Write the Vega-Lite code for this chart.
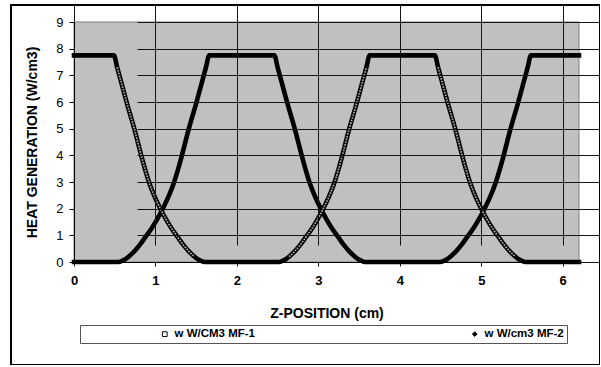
{
  "$schema": "https://vega.github.io/schema/vega-lite/v6.json",
  "width": 589,
  "height": 360,
  "autosize": "none",
  "padding": {"left": 11, "top": 5, "right": 0, "bottom": 0},
  "background": "white",
  "config": {
    "font": "Liberation Sans",
    "view": {"stroke": "black", "strokeWidth": 2},
    "axis": {
      "zindex": 1,
      "grid": true,
      "gridColor": "#141414",
      "gridWidth": 1,
      "domainColor": "black",
      "domainWidth": 1,
      "tickColor": "black",
      "labelColor": "black",
      "titleColor": "black",
      "labelFont": "Liberation Sans",
      "titleFont": "Liberation Sans",
      "labelFontSize": 13,
      "titleFontSize": 14,
      "titleFontWeight": "bold",
      "labelFlush": false,
      "labelOverlap": false
    },
    "axisX": {"offset": -103, "tickSize": 4, "labelPadding": 8, "labelFontWeight": "bold", "titlePadding": 19},
    "axisY": {"offset": -63, "tickSize": 5, "labelPadding": 6, "titlePadding": 16, "labelFontWeight": "normal"}
  },
  "datasets": {
    "plot": [{"area": "plot"}],
    "curves": [
      {"s": "w W/CM3 MF-1", "x": 0, "y": 7.75},
      {"s": "w W/CM3 MF-1", "x": 0.49, "y": 7.75},
      {"s": "w W/CM3 MF-1", "x": 0.53, "y": 7.3},
      {"s": "w W/CM3 MF-1", "x": 0.57, "y": 6.85},
      {"s": "w W/CM3 MF-1", "x": 0.65, "y": 5.95},
      {"s": "w W/CM3 MF-1", "x": 0.74, "y": 5.0},
      {"s": "w W/CM3 MF-1", "x": 0.825, "y": 4.0},
      {"s": "w W/CM3 MF-1", "x": 0.87, "y": 3.5},
      {"s": "w W/CM3 MF-1", "x": 0.92, "y": 3.0},
      {"s": "w W/CM3 MF-1", "x": 0.99, "y": 2.45},
      {"s": "w W/CM3 MF-1", "x": 1.06, "y": 2.0},
      {"s": "w W/CM3 MF-1", "x": 1.13, "y": 1.6},
      {"s": "w W/CM3 MF-1", "x": 1.2, "y": 1.25},
      {"s": "w W/CM3 MF-1", "x": 1.27, "y": 0.95},
      {"s": "w W/CM3 MF-1", "x": 1.34, "y": 0.65},
      {"s": "w W/CM3 MF-1", "x": 1.41, "y": 0.4},
      {"s": "w W/CM3 MF-1", "x": 1.48, "y": 0.2},
      {"s": "w W/CM3 MF-1", "x": 1.54, "y": 0.07},
      {"s": "w W/CM3 MF-1", "x": 1.6, "y": 0},
      {"s": "w W/CM3 MF-1", "x": 2.52, "y": 0},
      {"s": "w W/CM3 MF-1", "x": 2.58, "y": 0.07},
      {"s": "w W/CM3 MF-1", "x": 2.64, "y": 0.2},
      {"s": "w W/CM3 MF-1", "x": 2.71, "y": 0.4},
      {"s": "w W/CM3 MF-1", "x": 2.78, "y": 0.65},
      {"s": "w W/CM3 MF-1", "x": 2.85, "y": 0.95},
      {"s": "w W/CM3 MF-1", "x": 2.92, "y": 1.25},
      {"s": "w W/CM3 MF-1", "x": 2.99, "y": 1.6},
      {"s": "w W/CM3 MF-1", "x": 3.06, "y": 2.0},
      {"s": "w W/CM3 MF-1", "x": 3.13, "y": 2.45},
      {"s": "w W/CM3 MF-1", "x": 3.2, "y": 3.0},
      {"s": "w W/CM3 MF-1", "x": 3.25, "y": 3.5},
      {"s": "w W/CM3 MF-1", "x": 3.295, "y": 4.0},
      {"s": "w W/CM3 MF-1", "x": 3.38, "y": 5.0},
      {"s": "w W/CM3 MF-1", "x": 3.47, "y": 5.95},
      {"s": "w W/CM3 MF-1", "x": 3.55, "y": 6.85},
      {"s": "w W/CM3 MF-1", "x": 3.59, "y": 7.3},
      {"s": "w W/CM3 MF-1", "x": 3.63, "y": 7.75},
      {"s": "w W/CM3 MF-1", "x": 4.43, "y": 7.75},
      {"s": "w W/CM3 MF-1", "x": 4.47, "y": 7.3},
      {"s": "w W/CM3 MF-1", "x": 4.51, "y": 6.85},
      {"s": "w W/CM3 MF-1", "x": 4.59, "y": 5.95},
      {"s": "w W/CM3 MF-1", "x": 4.68, "y": 5.0},
      {"s": "w W/CM3 MF-1", "x": 4.765, "y": 4.0},
      {"s": "w W/CM3 MF-1", "x": 4.81, "y": 3.5},
      {"s": "w W/CM3 MF-1", "x": 4.86, "y": 3.0},
      {"s": "w W/CM3 MF-1", "x": 4.93, "y": 2.45},
      {"s": "w W/CM3 MF-1", "x": 5.0, "y": 2.0},
      {"s": "w W/CM3 MF-1", "x": 5.07, "y": 1.6},
      {"s": "w W/CM3 MF-1", "x": 5.14, "y": 1.25},
      {"s": "w W/CM3 MF-1", "x": 5.21, "y": 0.95},
      {"s": "w W/CM3 MF-1", "x": 5.28, "y": 0.65},
      {"s": "w W/CM3 MF-1", "x": 5.35, "y": 0.4},
      {"s": "w W/CM3 MF-1", "x": 5.42, "y": 0.2},
      {"s": "w W/CM3 MF-1", "x": 5.48, "y": 0.07},
      {"s": "w W/CM3 MF-1", "x": 5.54, "y": 0},
      {"s": "w W/CM3 MF-1", "x": 6.2, "y": 0},
      {"s": "w W/cm3 MF-2", "x": 0, "y": 0},
      {"s": "w W/cm3 MF-2", "x": 0.55, "y": 0},
      {"s": "w W/cm3 MF-2", "x": 0.61, "y": 0.07},
      {"s": "w W/cm3 MF-2", "x": 0.67, "y": 0.2},
      {"s": "w W/cm3 MF-2", "x": 0.74, "y": 0.4},
      {"s": "w W/cm3 MF-2", "x": 0.81, "y": 0.65},
      {"s": "w W/cm3 MF-2", "x": 0.88, "y": 0.95},
      {"s": "w W/cm3 MF-2", "x": 0.95, "y": 1.25},
      {"s": "w W/cm3 MF-2", "x": 1.02, "y": 1.6},
      {"s": "w W/cm3 MF-2", "x": 1.09, "y": 2.0},
      {"s": "w W/cm3 MF-2", "x": 1.16, "y": 2.45},
      {"s": "w W/cm3 MF-2", "x": 1.23, "y": 3.0},
      {"s": "w W/cm3 MF-2", "x": 1.28, "y": 3.5},
      {"s": "w W/cm3 MF-2", "x": 1.325, "y": 4.0},
      {"s": "w W/cm3 MF-2", "x": 1.41, "y": 5.0},
      {"s": "w W/cm3 MF-2", "x": 1.5, "y": 5.95},
      {"s": "w W/cm3 MF-2", "x": 1.58, "y": 6.85},
      {"s": "w W/cm3 MF-2", "x": 1.62, "y": 7.3},
      {"s": "w W/cm3 MF-2", "x": 1.66, "y": 7.75},
      {"s": "w W/cm3 MF-2", "x": 2.46, "y": 7.75},
      {"s": "w W/cm3 MF-2", "x": 2.5, "y": 7.3},
      {"s": "w W/cm3 MF-2", "x": 2.54, "y": 6.85},
      {"s": "w W/cm3 MF-2", "x": 2.62, "y": 5.95},
      {"s": "w W/cm3 MF-2", "x": 2.71, "y": 5.0},
      {"s": "w W/cm3 MF-2", "x": 2.795, "y": 4.0},
      {"s": "w W/cm3 MF-2", "x": 2.84, "y": 3.5},
      {"s": "w W/cm3 MF-2", "x": 2.89, "y": 3.0},
      {"s": "w W/cm3 MF-2", "x": 2.96, "y": 2.45},
      {"s": "w W/cm3 MF-2", "x": 3.03, "y": 2.0},
      {"s": "w W/cm3 MF-2", "x": 3.1, "y": 1.6},
      {"s": "w W/cm3 MF-2", "x": 3.17, "y": 1.25},
      {"s": "w W/cm3 MF-2", "x": 3.24, "y": 0.95},
      {"s": "w W/cm3 MF-2", "x": 3.31, "y": 0.65},
      {"s": "w W/cm3 MF-2", "x": 3.38, "y": 0.4},
      {"s": "w W/cm3 MF-2", "x": 3.45, "y": 0.2},
      {"s": "w W/cm3 MF-2", "x": 3.51, "y": 0.07},
      {"s": "w W/cm3 MF-2", "x": 3.57, "y": 0},
      {"s": "w W/cm3 MF-2", "x": 4.5, "y": 0},
      {"s": "w W/cm3 MF-2", "x": 4.56, "y": 0.07},
      {"s": "w W/cm3 MF-2", "x": 4.62, "y": 0.2},
      {"s": "w W/cm3 MF-2", "x": 4.69, "y": 0.4},
      {"s": "w W/cm3 MF-2", "x": 4.76, "y": 0.65},
      {"s": "w W/cm3 MF-2", "x": 4.83, "y": 0.95},
      {"s": "w W/cm3 MF-2", "x": 4.9, "y": 1.25},
      {"s": "w W/cm3 MF-2", "x": 4.97, "y": 1.6},
      {"s": "w W/cm3 MF-2", "x": 5.04, "y": 2.0},
      {"s": "w W/cm3 MF-2", "x": 5.11, "y": 2.45},
      {"s": "w W/cm3 MF-2", "x": 5.18, "y": 3.0},
      {"s": "w W/cm3 MF-2", "x": 5.23, "y": 3.5},
      {"s": "w W/cm3 MF-2", "x": 5.275, "y": 4.0},
      {"s": "w W/cm3 MF-2", "x": 5.36, "y": 5.0},
      {"s": "w W/cm3 MF-2", "x": 5.45, "y": 5.95},
      {"s": "w W/cm3 MF-2", "x": 5.53, "y": 6.85},
      {"s": "w W/cm3 MF-2", "x": 5.57, "y": 7.3},
      {"s": "w W/cm3 MF-2", "x": 5.61, "y": 7.75},
      {"s": "w W/cm3 MF-2", "x": 6.2, "y": 7.75}
    ]
  },
  "layer": [
    {
      "data": {"name": "plot"},
      "mark": {"type": "rect", "fill": "#c0c0c0", "stroke": "#808080", "strokeWidth": 1},
      "encoding": {
        "x": {
          "datum": 0, "type": "quantitative", "title": "Z-POSITION (cm)",
          "scale": {"domain": [0, 6.2], "range": [63, 568], "nice": false, "zero": false},
          "axis": {"values": [0, 1, 2, 3, 4, 5, 6], "zindex": 1, "grid": true, "format": "d"}
        },
        "x2": {"datum": 6.2},
        "y": {
          "datum": 0, "type": "quantitative", "title": "HEAT GENERATION  (W/cm3)",
          "scale": {"domain": [0, 9], "range": [257, 17], "nice": false, "zero": false},
          "axis": {"values": [0, 1, 2, 3, 4, 5, 6, 7, 8, 9], "zindex": 1, "grid": true, "format": "d"}
        },
        "y2": {"datum": 9}
      }
    },
    {
      "data": {"name": "curves"},
      "mark": {"type": "line", "strokeWidth": 4.6, "strokeCap": "square", "interpolate": "monotone"},
      "encoding": {
        "x": {
          "field": "x", "type": "quantitative", "title": "Z-POSITION (cm)",
          "axis": {"values": [0, 1, 2, 3, 4, 5, 6], "zindex": 1, "grid": true, "format": "d"}
        },
        "y": {
          "field": "y", "type": "quantitative", "title": "HEAT GENERATION  (W/cm3)",
          "axis": {"values": [0, 1, 2, 3, 4, 5, 6, 7, 8, 9], "zindex": 1, "grid": true, "format": "d"}
        },
        "color": {
          "field": "s", "type": "nominal",
          "scale": {"range": ["black", "black"]},
          "legend": {
            "orient": "none",
            "legendX": 69,
            "legendY": 320,
            "direction": "horizontal",
            "title": null,
            "strokeColor": "#555555",
            "padding": 3,
            "symbolOffset": 76,
            "columnPadding": 138,
            "labelFontSize": 11.5,
            "labelFontWeight": "bold",
            "labelColor": "black",
            "labelOffset": 4,
            "symbolType": "square",
            "symbolSize": 22,
            "symbolStrokeWidth": 1,
            "symbolStrokeColor": "black",
            "encode": {
              "symbols": {
                "update": {
                  "shape": {"signal": "datum.value == 'w W/CM3 MF-1' ? 'square' : 'diamond'"},
                  "fill": {"signal": "datum.value == 'w W/CM3 MF-1' ? 'white' : 'black'"},
                  "stroke": {"value": "black"},
                  "strokeWidth": {"value": 1}
                }
              }
            }
          }
        }
      }
    },
    {
      "data": {"name": "curves"},
      "transform": [{"filter": "datum.s == 'w W/CM3 MF-1' && datum.y > 0.1 && datum.y < 7.7"}],
      "mark": {"type": "line", "stroke": "#b0b0b0", "strokeWidth": 1.7, "strokeDash": [1.6, 1.2], "interpolate": "monotone"},
      "encoding": {
        "x": {
          "field": "x", "type": "quantitative", "title": "Z-POSITION (cm)",
          "axis": {"values": [0, 1, 2, 3, 4, 5, 6], "zindex": 1, "grid": true, "format": "d"}
        },
        "y": {
          "field": "y", "type": "quantitative", "title": "HEAT GENERATION  (W/cm3)",
          "axis": {"values": [0, 1, 2, 3, 4, 5, 6, 7, 8, 9], "zindex": 1, "grid": true, "format": "d"}
        },
        "detail": {"field": "x", "type": "quantitative", "bin": {"step": 2, "extent": [0, 8]}}
      }
    }
  ]
}
